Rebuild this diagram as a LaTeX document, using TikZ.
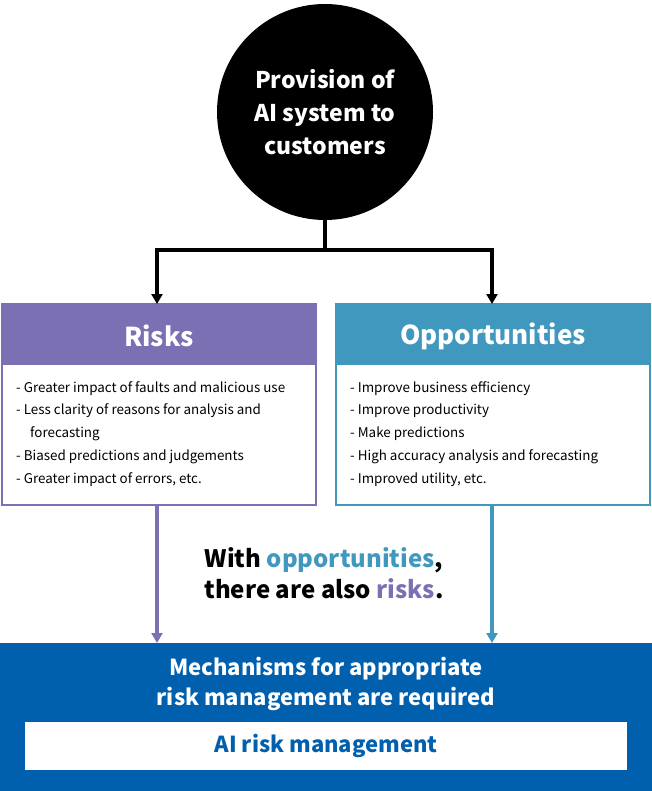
\documentclass[tikz,border=0pt]{standalone}
\usepackage{fontspec}
\setmainfont{Noto Sans CJK JP}
\usetikzlibrary{arrows.meta}
\definecolor{rpur}{HTML}{7B70B4}
\definecolor{oblu}{HTML}{4198BE}
\definecolor{dblu}{HTML}{0060AE}
\tikzset{
  arr/.style={line width=3.5pt,-{Triangle[length=10pt,width=11pt]}},
  head/.style={font=\bfseries\fontsize{26}{28}\selectfont,text=white},
  item/.style={font=\fontsize{13.4}{16}\selectfont,anchor=west,inner sep=0pt},
}
\begin{document}
\begin{tikzpicture}[x=1pt,y=-1pt]
\useasboundingbox (0,0) rectangle (652,791);
\node[circle,fill=black,minimum size=216pt,inner sep=0pt,align=center,text=white,font=\bfseries\fontsize{23}{33}\selectfont] (c) at (325,112) {Provision of\\AI system to\\customers};
\coordinate (j) at (325,250);
\coordinate (jl) at (157,250);
\coordinate (jr) at (492,250);
\draw[line width=3.5pt] (c.south) -- (j);
\draw[line width=3.5pt] (jl) -- (jr);
% boxes
\draw[rpur,line width=2pt,fill=white] (2,304) rectangle (316,505);
\fill[rpur] (2,304) rectangle (316,365);
\node[head] (rh) at (159,336) {Risks};
\draw[oblu,line width=2pt,fill=white] (336,304) rectangle (650,505);
\fill[oblu] (336,304) rectangle (650,365);
\node[head] (oh) at (493,336) {Opportunities};
\coordinate (rt) at (157,304);
\coordinate (ot) at (492,304);
\draw[arr] ([yshift=1.75pt]jl) -- (rt);
\draw[arr] ([yshift=1.75pt]jr) -- (ot);
\node[item] (r1) at (16,389) {- Greater impact of faults and malicious use};
\node[item] (r2) at (16,411) {- Less clarity of reasons for analysis and};
\node[item] (r3) at (30,434) {forecasting};
\node[item] (r4) at (16,457) {- Biased predictions and judgements};
\node[item] (r5) at (16,480) {- Greater impact of errors, etc.};
\node[item] (o1) at (350,389) {- Improve business efficiency};
\node[item] (o2) at (350,411) {- Improve productivity};
\node[item] (o3) at (350,434) {- Make predictions};
\node[item] (o4) at (350,457) {- High accuracy analysis and forecasting};
\node[item] (o5) at (350,480) {- Improved utility, etc.};
% bottom
\fill[dblu] (0,643) rectangle (652,791);
\node[font=\bfseries\fontsize{22}{30}\selectfont,text=white,align=center] (bt) at (326,684) {Mechanisms for appropriate\\risk management are required};
\node[fill=white,minimum width=602pt,minimum height=48pt,inner sep=0pt,text=dblu,font=\bfseries\fontsize{22}{24}\selectfont] (ai) at (326,746) {AI risk management};
\coordinate (rb) at (157,643);
\coordinate (ob) at (492,643);
\draw[arr,rpur] (157,505) -- (rb);
\draw[arr,oblu] (492,505) -- (ob);
\node[font=\bfseries\fontsize{24}{31}\selectfont,align=center] (mid) at (324,573) {With \textcolor{oblu}{opportunities},\\there are also \textcolor{rpur}{risks}.};
\end{tikzpicture}
\end{document}
